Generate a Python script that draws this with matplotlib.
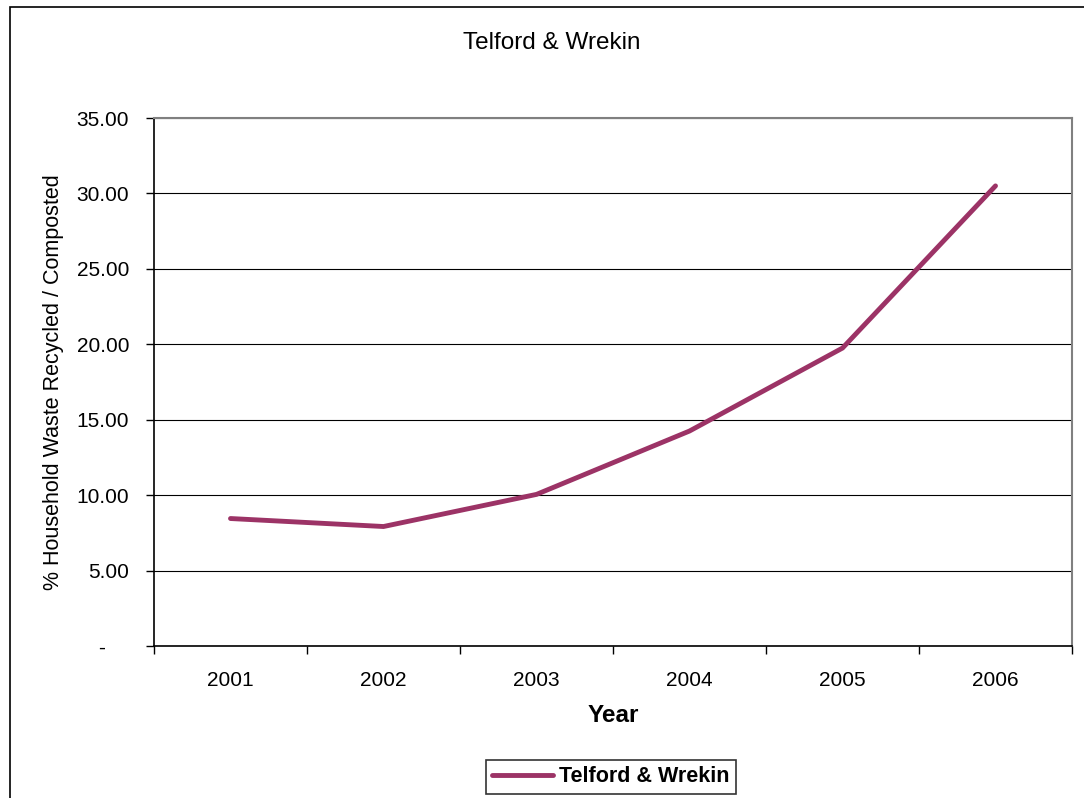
import matplotlib.pyplot as plt
from matplotlib.patches import Rectangle
from matplotlib.ticker import FuncFormatter, FixedLocator

years = ['2001', '2002', '2003', '2004', '2005', '2006']
recycled = [8.45, 7.92, 10.05, 14.25, 19.75, 30.5]

plt.rcParams['font.family'] = ['Liberation Sans', 'DejaVu Sans']

fig = plt.figure(figsize=(10.84, 7.98), dpi=100)
W, H = 1084, 798

# outer chart border (runs off the right and bottom edges)
fig.patches.append(Rectangle((10 / W, -0.05), 1.2, 1 - 7 / H + 0.05,
                             transform=fig.transFigure, fill=False,
                             edgecolor='black', linewidth=1.2))

ax = fig.add_axes([154 / W, 1 - 646 / H, (1072 - 154) / W, (646 - 118) / H])
x = list(range(len(years)))
line, = ax.plot(x, recycled, color='#9C3366', linewidth=3.5,
                solid_capstyle='round', solid_joinstyle='miter',
                label='Telford & Wrekin')

ax.set_xlim(-0.5, len(years) - 0.5)
ax.set_ylim(0, 35)
ax.set_yticks([0, 5, 10, 15, 20, 25, 30, 35])
# accounting style: zero shown as a dash set in from the right
ax.yaxis.set_major_formatter(FuncFormatter(lambda v, p: '-    ' if v == 0 else f'{v:.2f}'))
ax.yaxis.grid(True, color='black', linewidth=0.8)
ax.set_axisbelow(True)

ax.set_xticks(x)
ax.set_xticklabels(years)
ax.xaxis.set_minor_locator(FixedLocator([i - 0.5 for i in range(len(years) + 1)]))
ax.tick_params(axis='x', which='major', length=0, labelsize=15, pad=18)
ax.tick_params(axis='x', which='minor', length=6, width=1, direction='out')
ax.tick_params(axis='y', length=6, width=1, direction='out', labelsize=15, pad=12)

for s in ['top', 'right']:
    ax.spines[s].set_color('#808080')
    ax.spines[s].set_linewidth(1.5)
for s in ['left', 'bottom']:
    ax.spines[s].set_color('black')
    ax.spines[s].set_linewidth(1.2)

ax.set_xlabel('Year', fontsize=17.5, fontweight='bold', labelpad=10)
ax.set_ylabel('% Household Waste Recycled / Composted', fontsize=15.5, labelpad=9)

fig.text(552 / W, 1 - 43 / H, 'Telford & Wrekin', ha='center', va='center', fontsize=17.5)

leg = fig.legend(handles=[line], loc='center', bbox_to_anchor=(611 / W, 1 - 777 / H),
                 frameon=True, fancybox=False, edgecolor='black', handlelength=2.8,
                 handletextpad=0.3, borderpad=0.3, prop={'weight': 'bold', 'size': 15.5})
leg.get_frame().set_linewidth(1.2)

fig.savefig('out.png', dpi=100)
